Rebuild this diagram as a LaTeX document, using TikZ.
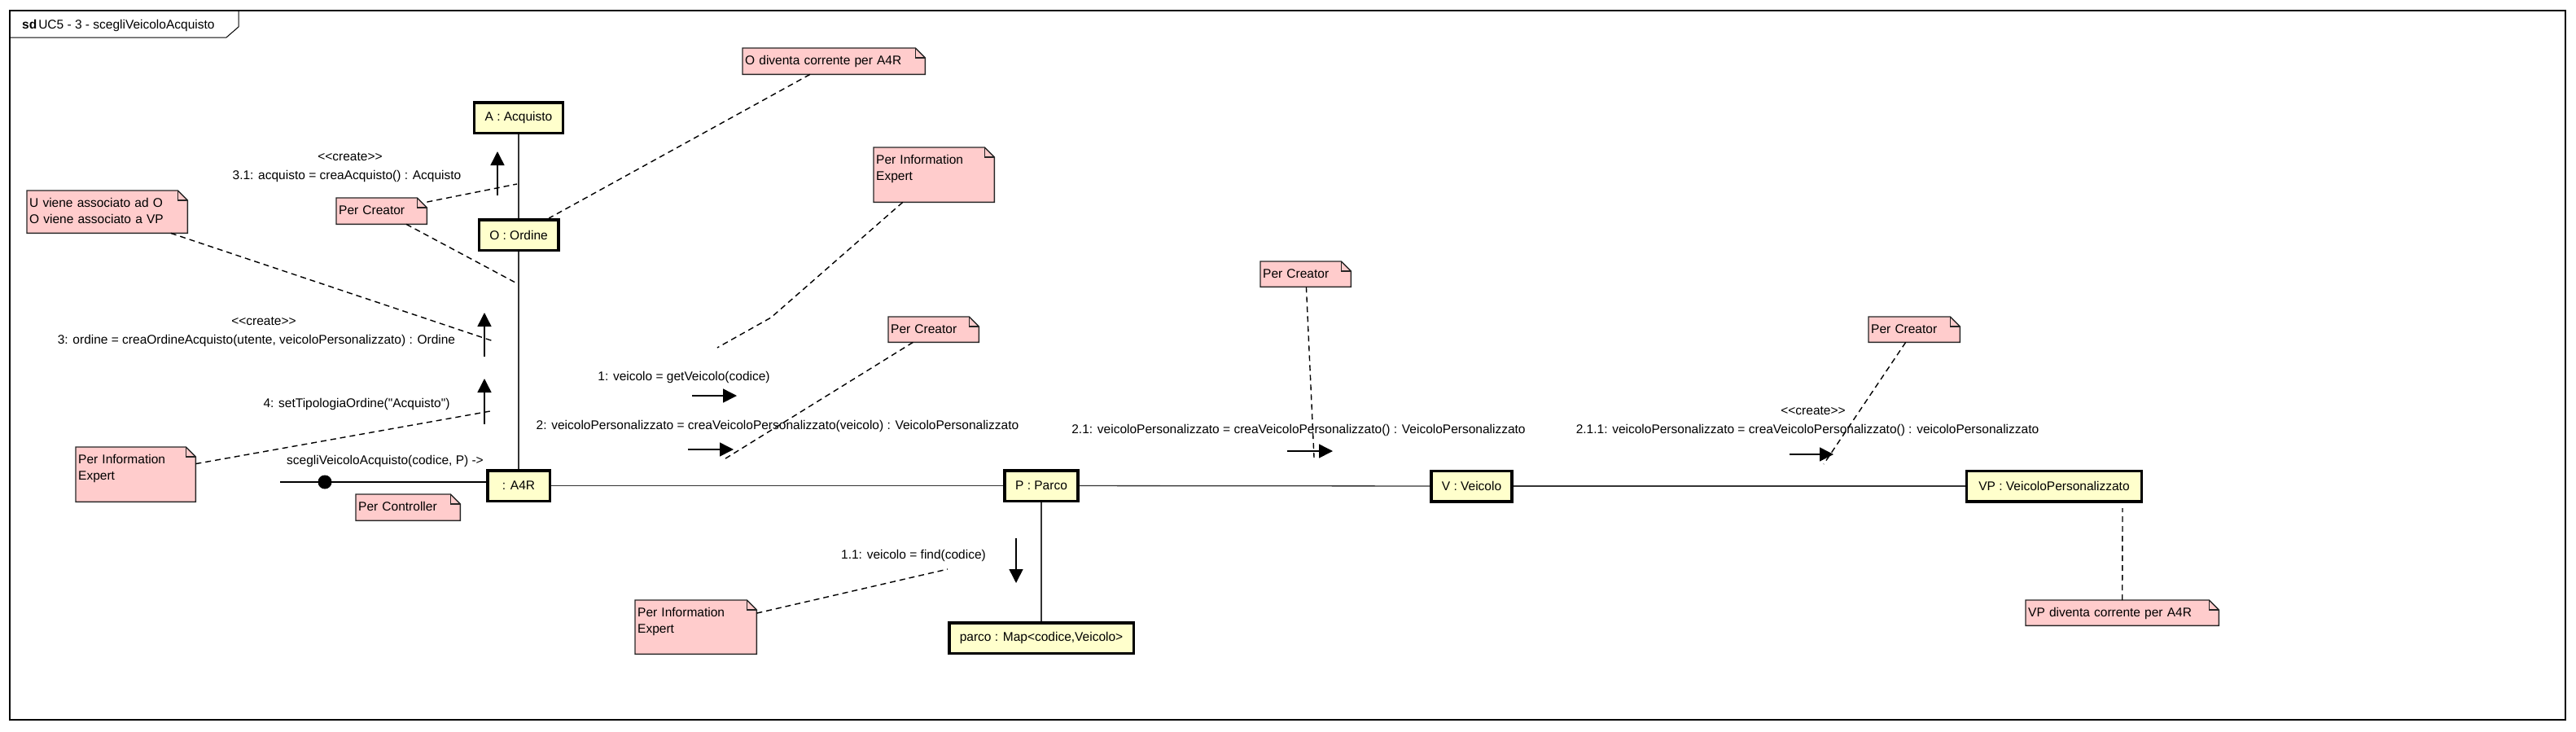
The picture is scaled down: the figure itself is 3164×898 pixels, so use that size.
\documentclass[tikz,border=0pt]{standalone}
\usepackage{fontspec}
\setmainfont{Liberation Sans}[Ligatures=TeXOff]
\usetikzlibrary{arrows.meta,backgrounds}
\definecolor{objyellow}{HTML}{FFFFCC}
\definecolor{notepink}{HTML}{FFCCCC}

\begin{document}
\begin{tikzpicture}[x=1pt, y=-1pt,
    every node/.style={font=\fontsize{15.5}{20}\selectfont},
    obj/.style={draw=black, line width=3.5pt, fill=objyellow, minimum height=37.5pt, minimum width=76.5pt, inner xsep=13pt},
    note/.style={anchor=north west, inner xsep=3pt, inner ysep=0pt, text height=20pt, align=left},
    notebox/.style={draw=black!85, line width=1.4pt, fill=notepink},
    link/.style={black!80, line width=1.3pt},
    noteline/.style={black, line width=1.4pt, dash pattern=on 7pt off 5pt},
    msg/.style={black, line width=1.5pt, -{Triangle[length=17pt, width=17pt]}},
    lbl/.style={inner sep=0pt}]
    \useasboundingbox (0,0) rectangle (3164,898);
    % The frame and its tab.
        \draw[line width=1.6pt] (12,13) rectangle (3151,884);
        \draw[line width=1pt] (12,46) -- (278,46) -- (293,33) -- (293,13);
        \node[anchor=west, lbl] (title) at (27,31) {\textbf{sd}\hspace{2pt}UC5 - 3 - scegliVeicoloAcquisto};
    % Below nodes are the objects.
        \node[obj] (acq) at (637,144.5) {A : Acquisto};
        \node[obj] (ord) at (637,288.5) {O : Ordine};
        \node[obj] (a4r) at (637,596.5) {: A4R};
        \node[obj] (parco) at (1279,596.5) {P : Parco};
        \node[obj] (mappa) at (1279,783.5) {parco : Map<codice,Veicolo>};
        \node[obj] (veic) at (1807.5,597) {V : Veicolo};
        \node[obj, inner xsep=15pt] (vp) at (2523,597) {VP : VeicoloPersonalizzato};
    % Links between the objects.
        \draw[link] (acq) -- (ord);
        \draw[link] (ord) -- (a4r);
        \draw[link] (a4r) -- (parco);
        \draw[link] (parco) -- (mappa);
        \draw[link] (parco) -- (veic);
        \draw[link] (veic) -- (vp);
    % The found message into A4R.
        \coordinate (start) at (344,592);
        \draw[black, line width=1.8pt] (start) -- (a4r.west |- start);
        \node[circle, fill=black, inner sep=0pt, minimum size=17pt] (dot) at (399,592) {};
    % Below nodes are the messages.
        \node[lbl] (c31) at (430,193) {<<create>>};
        \node[lbl] (l31) at (426,216) {3.1: acquisto = creaAcquisto() : Acquisto};
        \node[lbl] (c3) at (324,395) {<<create>>};
        \node[lbl] (l3) at (315,418) {3: ordine = creaOrdineAcquisto(utente, veicoloPersonalizzato) : Ordine};
        \node[lbl] (l4) at (438,496) {4: setTipologiaOrdine("Acquisto")};
        \node[lbl] (lstart) at (473,566) {scegliVeicoloAcquisto(codice, P) ->};
        \node[lbl] (l1) at (840,463) {1: veicolo = getVeicolo(codice)};
        \node[lbl] (l2) at (955,523) {2: veicoloPersonalizzato = creaVeicoloPersonalizzato(veicolo) : VeicoloPersonalizzato};
        \node[lbl] (l11) at (1122,682) {1.1: veicolo = find(codice)};
        \node[lbl] (l21) at (1595,528) {2.1: veicoloPersonalizzato = creaVeicoloPersonalizzato() : VeicoloPersonalizzato};
        \node[lbl] (c211) at (2227,505) {<<create>>};
        \node[lbl] (l211) at (2220,528) {2.1.1: veicoloPersonalizzato = creaVeicoloPersonalizzato() : veicoloPersonalizzato};
    % Message arrows.
        \coordinate (m31a) at (611,240);  \coordinate (m31b) at (611,186);
        \coordinate (m3a) at (595,438);   \coordinate (m3b) at (595,384);
        \coordinate (m4a) at (595,521);   \coordinate (m4b) at (595,465);
        \coordinate (m1a) at (850,486);   \coordinate (m1b) at (905,486);
        \coordinate (m2a) at (845,552);   \coordinate (m2b) at (901,552);
        \coordinate (m11a) at (1248,661); \coordinate (m11b) at (1248,716);
        \coordinate (m21a) at (1581,554); \coordinate (m21b) at (1637,554);
        \coordinate (m211a) at (2198,558); \coordinate (m211b) at (2252,558);
        \foreach \m in {m31, m3, m4, m1, m2, m11, m21, m211}
            \draw[msg] (\m a) -- (\m b);
    % Below nodes are the notes.
        \node[note, text width=105pt, text depth=12pt] (nCreatorO) at (413,243) {Per Creator};
        \node[note, text width=191pt, text depth=32pt] (nAssoc) at (33,234) {U viene associato ad O\\O viene associato a VP};
        \node[note, text width=218pt, text depth=12pt] (nODiv) at (912,59) {O diventa corrente per A4R};
        \node[note, text width=142pt, text depth=47pt] (nExpTop) at (1073,181) {Per Information\\Expert};
        \node[note, text width=141pt, text depth=47pt] (nExpLeft) at (93,549) {Per Information\\Expert};
        \node[note, text width=122pt, text depth=12pt] (nController) at (437,607) {Per Controller};
        \node[note, text width=105pt, text depth=11pt] (nCreatorP) at (1091,389) {Per Creator};
        \node[note, text width=143pt, text depth=46pt] (nExpBot) at (780,737) {Per Information\\Expert};
        \node[note, text width=105pt, text depth=11pt] (nCreatorV) at (1548,321) {Per Creator};
        \node[note, text width=106pt, text depth=11pt] (nCreatorVP) at (2295,389) {Per Creator};
        \node[note, text width=231pt, text depth=11pt] (nVPDiv) at (2488,737) {VP diventa corrente per A4R};
    % This draws the folded paper behind the notes.
        \begin{pgfonlayer}{background}
            \foreach \n in {nCreatorO, nAssoc, nODiv, nExpTop, nExpLeft, nController, nCreatorP, nExpBot, nCreatorV, nCreatorVP, nVPDiv}{
                \draw[notebox] (\n.south west) -- (\n.north west) -- ([xshift=-12pt]\n.north east) -- ([yshift=-12pt]\n.north east) -- (\n.south east) -- cycle;
                \draw[notebox, fill=none] ([xshift=-12pt]\n.north east) -- ++(0,12) -- ([yshift=-12pt]\n.north east);
            }
        \end{pgfonlayer}
    % Dashed lines from the notes.
        \coordinate (pAO) at (635,226);
        \coordinate (pOR) at (633,347);
        \coordinate (p3) at (606,419);
        \coordinate (pbend) at (947,390);
        \coordinate (p1) at (881,427);
        \coordinate (p4) at (602,505);
        \coordinate (p2) at (888,565);
        \coordinate (p11) at (1164,699);
        \coordinate (p21) at (1614,562);
        \coordinate (p211) at (2240,570);
        \coordinate (pVP) at (2607,624);
        \draw[noteline] (nCreatorO) -- (pAO);
        \draw[noteline] (nCreatorO) -- (pOR);
        \draw[noteline] (nAssoc) -- (p3);
        \draw[noteline] (nODiv) -- (ord);
        \draw[noteline] (nExpTop) -- (pbend) -- (p1);
        \draw[noteline] (nExpLeft) -- (p4);
        \draw[noteline] (nCreatorP) -- (p2);
        \draw[noteline] (nExpBot) -- (p11);
        \draw[noteline] (nCreatorV) -- (p21);
        \draw[noteline] (nCreatorVP) -- (p211);
        \draw[noteline] (nVPDiv.north) -- (pVP);
\end{tikzpicture}
\end{document}
